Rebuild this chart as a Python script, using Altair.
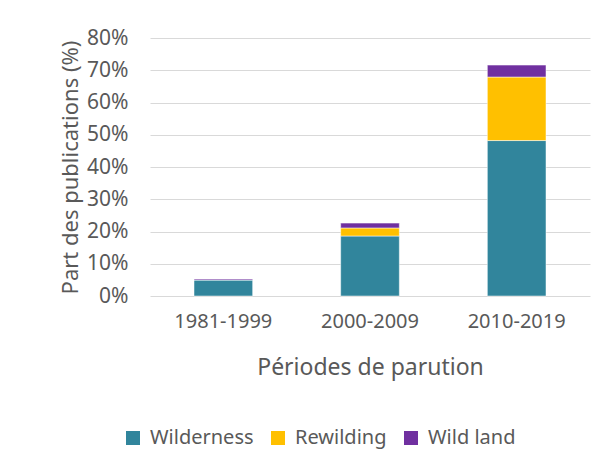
import altair as alt
import pandas as pd

periods = ["1981-1999", "2000-2009", "2010-2019"]
series = ["Wilderness", "Rewilding", "Wild land"]
wilderness = [0.050, 0.186, 0.482]
rewilding = [0.000, 0.025, 0.197]
wild_land = [0.003, 0.015, 0.037]
colors = ["#31859C", "#FFC000", "#7030A0"]
y_ticks = [0, 0.1, 0.2, 0.3, 0.4, 0.5, 0.6, 0.7, 0.8]

rows = []
for vals, name, k in zip([wilderness, rewilding, wild_land], series, range(3)):
    for p, v in zip(periods, vals):
        rows.append({"period": p, "series": name, "value": v, "order": k})
df = pd.DataFrame(rows)

FONT = "Noto Sans"
GREY = "#595959"

chart = alt.Chart(df).mark_bar(stroke="white", strokeWidth=0.5).encode(
    x=alt.X("period:N", sort=periods,
            scale=alt.Scale(paddingInner=0.6, paddingOuter=0.3),
            axis=alt.Axis(title="Périodes de parution", labelAngle=0, ticks=False,
                          domain=False, labelPadding=15, labelFontSize=20,
                          titleFontSize=23, titleFontWeight="normal",
                          titleX=220, titleY=71, titleBaseline="middle")),
    y=alt.Y("value:Q", stack="zero",
            scale=alt.Scale(domain=[0, 0.8], nice=False),
            axis=alt.Axis(title="Part des publications (%)", format=".0%", values=y_ticks,
                          ticks=False, domain=False, labelPadding=22, labelFontSize=21,
                          titleFontSize=22, titleFontWeight="normal",
                          titleX=-80, titleY=129, titleAngle=-90,
                          titleAlign="center", titleBaseline="middle",
                          gridColor="#d9d9d9", gridWidth=1)),
    color=alt.Color("series:N", sort=series,
                    scale=alt.Scale(domain=series, range=colors),
                    legend=alt.Legend(title=None, orient="none", direction="horizontal",
                                      legendX=-27, legendY=390, symbolType="square",
                                      symbolSize=196, symbolStrokeWidth=0,
                                      labelFontSize=20, labelOffset=7, columnPadding=14,
                                      labelFont=FONT, labelColor=GREY)),
    order=alt.Order("order:Q", sort="ascending"),
).properties(
    width=440, height=258,
    autosize=alt.AutoSizeParams(type="none"),
    padding={"left": 142, "top": 30, "right": 9, "bottom": 160},
).configure_view(stroke=None).configure_axis(
    labelFont=FONT, titleFont=FONT, labelColor=GREY, titleColor=GREY
)

chart.save("out.html", embed_options={"renderer": "svg", "actions": False})
